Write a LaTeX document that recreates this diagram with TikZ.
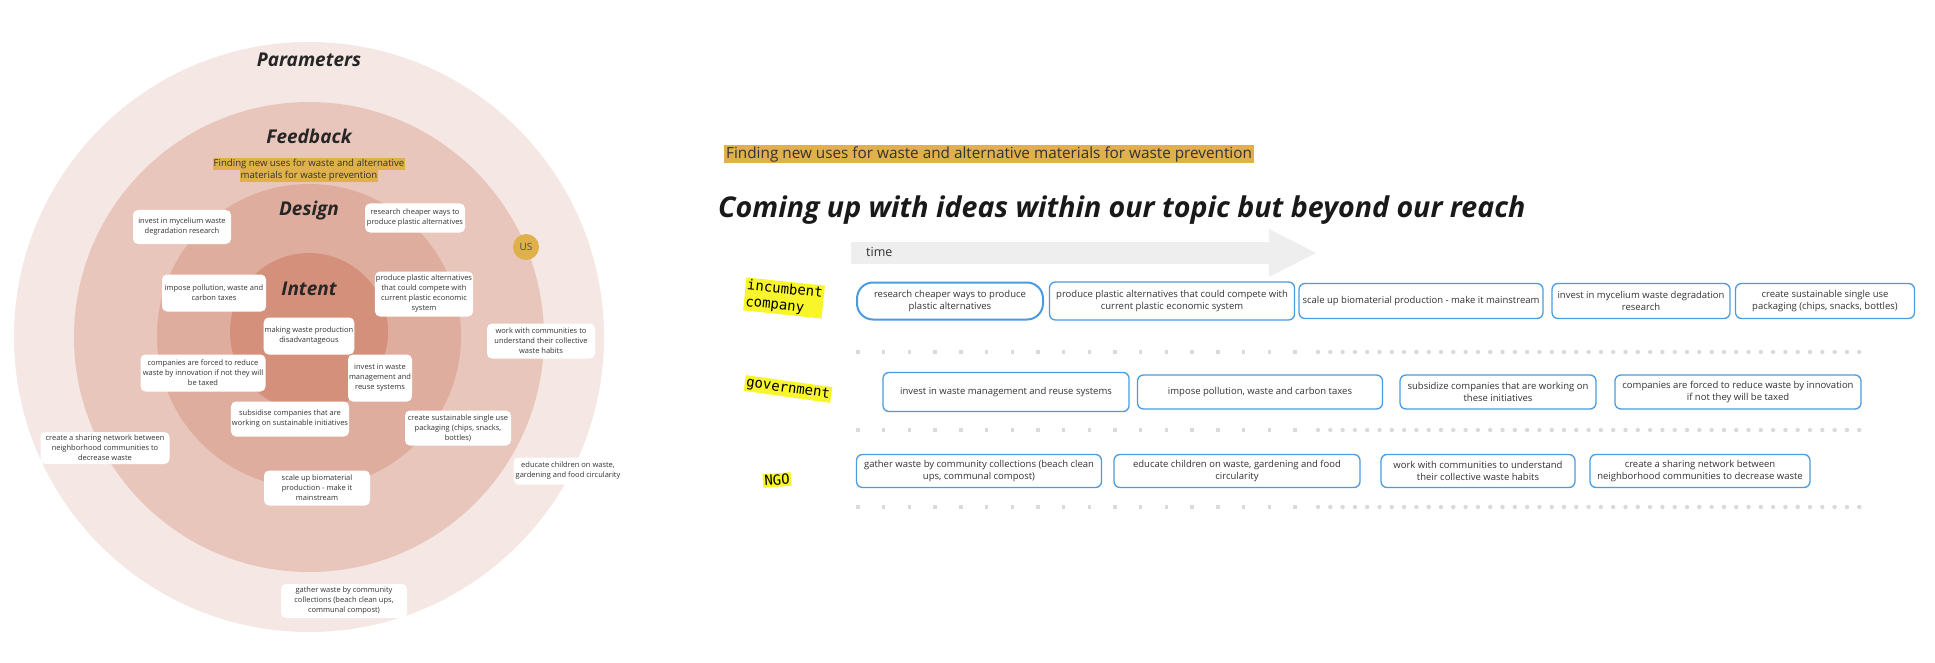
\documentclass[tikz,border=0pt]{standalone}
\usepackage{fontspec}
\setmainfont{Open Sans}
\newfontfamily\tagfont{DejaVu Sans Mono}
\usetikzlibrary{positioning}

\definecolor{ringouter}{HTML}{F5E7E3}
\definecolor{ringfeed}{HTML}{E9C6BC}
\definecolor{ringdesign}{HTML}{DEAD9E}
\definecolor{ringintent}{HTML}{D5907B}
\definecolor{gold}{HTML}{E0B04A}
\definecolor{tagyellow}{HTML}{F8F52A}
\definecolor{boxblue}{HTML}{4A9BE0}
\definecolor{dotgrey}{HTML}{DADADA}
\definecolor{arrowgrey}{HTML}{EEEEEE}

\begin{document}
\begin{tikzpicture}[
        x=1pt, y=-1pt,
        note/.style={rectangle, rounded corners=5pt, fill=white, align=center, inner sep=1pt, text=black!80, font=\fontsize{7.5}{10}\selectfont},
        idea/.style={rectangle, rounded corners=6pt, draw=boxblue, line width=1.3pt, fill=white, align=center, inner sep=1pt, text=black!80, font=\fontsize{9.5}{12.5}\selectfont},
        layer/.style={font=\fontsize{19}{22}\selectfont\bfseries\itshape, text=black!85},
        actor/.style={fill=tagyellow, inner sep=1.5pt, align=left, font=\tagfont\fontsize{14}{16.5}\selectfont},
        hl/.style={fill=gold, inner sep=1pt, text=black!80}
    ]
    \useasboundingbox (0,0) rectangle (1935,663);

    % rings
    \fill[ringouter] (309,337) circle (295pt);
    \fill[ringfeed] (309,337) circle (235pt);
    \fill[ringdesign] (309,336) circle (152pt);
    \fill[ringintent] (309,332) circle (79pt);

    \node[layer] (param) at (309,60) {Parameters};
    \node[layer] (feed) at (309,136) {Feedback};
    \node[hl, font=\fontsize{9.6}{11}\selectfont] (goal1) at (309,164) {Finding new uses for waste and alternative};
    \node[hl, font=\fontsize{9.6}{11}\selectfont, below=0pt of goal1] (goal2) {materials for waste prevention};
    \node[layer] (design) at (309,211) {Design};
    \node[layer] (intent) at (309,289) {Intent};
    \node[circle, fill=gold, minimum size=26pt, inner sep=0pt, text=black!70, font=\fontsize{10}{12}\selectfont] (us) at (526,247) {US};

    % notes in the rings
    \node[note, minimum width=98pt, minimum height=34pt] (myc) at (182,227) {invest in mycelium waste\\degradation research};
    \node[note, minimum width=100pt, minimum height=29pt] (cheap) at (415,218) {research cheaper ways to\\produce plastic alternatives};
    \node[note, minimum width=104pt, minimum height=37pt] (tax) at (214,293) {impose pollution, waste and\\carbon taxes};
    \node[note, minimum width=98pt, minimum height=45pt] (compete) at (424,294) {produce plastic alternatives\\that could compete with\\current plastic economic\\system};
    \node[note, minimum width=90pt, minimum height=37pt] (disadv) at (309,336) {making waste production\\disadvantageous};
    \node[note, minimum width=108pt, minimum height=35pt] (habits) at (541,341) {work with communities to\\understand their collective\\waste habits};
    \node[note, minimum width=125pt, minimum height=37pt] (forced) at (203,373) {companies are forced to reduce\\waste by innovation if not they will\\be taxed};
    \node[note, minimum width=64pt, minimum height=47pt] (reuse) at (380,378) {invest in waste\\management and\\reuse systems};
    \node[note, minimum width=116pt, minimum height=35pt] (subsid) at (290,419) {subsidise companies that are\\working on sustainable initiatives};
    \node[note, minimum width=106pt, minimum height=35pt] (pack) at (458,428) {create sustainable single use\\packaging (chips, snacks,\\bottles)};
    \node[note, minimum width=129pt, minimum height=32pt] (share) at (105,448) {create a sharing network between\\neighborhood communities to\\decrease waste};
    \node[note, minimum width=109pt, minimum height=27pt] (educate) at (568,471) {educate children on waste,\\gardening and food circularity};
    \node[note, minimum width=106pt, minimum height=35pt] (scale) at (317,488) {scale up biomaterial\\production - make it\\mainstream};
    \node[note, minimum width=126pt, minimum height=34pt] (gather) at (344,601) {gather waste by community\\collections (beach clean ups,\\communal compost)};

    % right side
    \node[hl, anchor=west, inner xsep=2pt, inner ysep=1pt, font=\fontsize{15.3}{17}\selectfont] (topic) at (724,154) {Finding new uses for waste and alternative materials for waste prevention};
    \node[anchor=base west, inner sep=0pt, text=black!90, font=\fontsize{28.6}{34}\selectfont\bfseries\itshape] (title) at (718,218) {Coming up with ideas within our topic but beyond our reach};

    \fill[arrowgrey] (851,242) -- (1269,242) -- (1269,229) -- (1316,253) -- (1269,277) -- (1269,264) -- (851,264) -- cycle;
    \node[anchor=west, inner sep=0pt, text=black!80, font=\fontsize{12.5}{14}\selectfont] (time) at (866,252) {time};

    % dotted lanes
    \foreach \y in {352,430,507} {
        \foreach \x in {858,883.7,...,1300} \fill[dotgrey] (\x-1.7,\y-1.7) rectangle (\x+1.7,\y+1.7);
        \foreach \x in {1318,1330.3,...,1860} \fill[dotgrey] (\x,\y) circle (2.2pt);
    }

    \node[actor, rotate=-6] (company) at (784,298) {incumbent\\company};
    \node[actor, rotate=-8] (gov) at (788,389) {government};
    \node[actor, rotate=4] (ngo) at (777,480) {NGO};

    % incumbent company
    \node[idea, rounded corners=16pt, line width=2pt, minimum width=186pt, minimum height=37pt] (c1) at (950,301) {research cheaper ways to produce\\plastic alternatives};
    \node[idea, minimum width=245pt, minimum height=38pt] (c2) at (1172,301) {produce plastic alternatives that could compete with\\current plastic economic system};
    \node[idea, minimum width=244pt, minimum height=35pt] (c3) at (1421,301) {scale up biomaterial production - make it mainstream};
    \node[idea, minimum width=178pt, minimum height=35pt] (c4) at (1641,301) {invest in mycelium waste degradation\\research};
    \node[idea, minimum width=179pt, minimum height=35pt] (c5) at (1825,301) {create sustainable single use\\packaging (chips, snacks, bottles)};

    % government
    \node[idea, minimum width=246pt, minimum height=39pt] (g1) at (1006,392) {invest in waste management and reuse systems};
    \node[idea, minimum width=245pt, minimum height=34pt] (g2) at (1260,392) {impose pollution, waste and carbon taxes};
    \node[idea, minimum width=196pt, minimum height=34pt] (g3) at (1498,392) {subsidize companies that are working on\\these initiatives};
    \node[idea, minimum width=246pt, minimum height=34pt] (g4) at (1738,392) {companies are forced to reduce waste by innovation\\if not they will be taxed};

    % NGO
    \node[idea, minimum width=245pt, minimum height=33pt] (n1) at (979,471) {gather waste by community collections (beach clean\\ups, communal compost)};
    \node[idea, minimum width=246pt, minimum height=33pt] (n2) at (1237,471) {educate children on waste, gardening and food\\circularity};
    \node[idea, minimum width=194pt, minimum height=33pt] (n3) at (1478,471) {work with communities to understand\\their collective waste habits};
    \node[idea, minimum width=220pt, minimum height=33pt] (n4) at (1700,471) {create a sharing network between\\neighborhood communities to decrease waste};
\end{tikzpicture}
\end{document}
